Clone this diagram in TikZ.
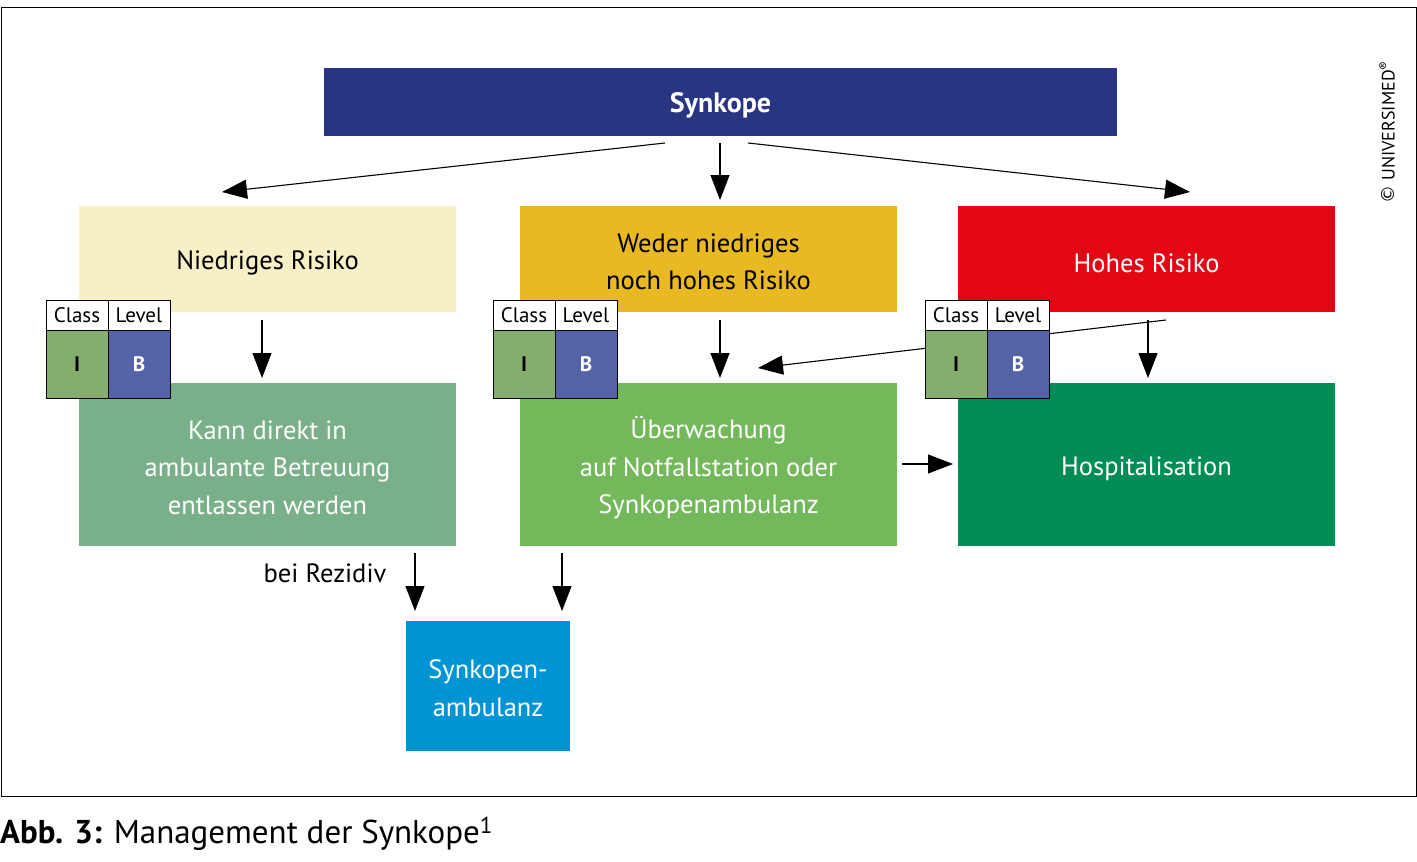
\documentclass[tikz,border=0pt]{standalone}
\usepackage{fontspec}
\setmainfont{PT Sans}
\newfontfamily\symfont{DejaVu Sans}
\usetikzlibrary{arrows.meta}
\definecolor{cblue}{HTML}{283583}
\definecolor{cpale}{HTML}{F7EFC6}
\definecolor{cyel}{HTML}{E8B923}
\definecolor{cred}{HTML}{E30613}
\definecolor{cgreenA}{HTML}{79B08A}
\definecolor{cgreenB}{HTML}{73B85A}
\definecolor{cgreenC}{HTML}{008C55}
\definecolor{ccyan}{HTML}{0094D4}
\definecolor{cellI}{HTML}{84AD6E}
\definecolor{cellB}{HTML}{5462A8}
\tikzset{
  box/.style={draw=none, inner sep=0pt, minimum width=377pt, minimum height=106pt},
  bigbox/.style={box, minimum height=163pt},
  tx/.style={inner sep=0pt, align=center, font=\fontsize{26.5}{37.5}\selectfont},
  wtx/.style={tx, text=white},
  hcell/.style={draw=black, line width=0.8pt, fill=white, minimum width=62pt, minimum height=30pt, inner sep=0pt, font=\fontsize{21}{21}\selectfont},
  dcell/.style={draw=black, line width=0.8pt, minimum width=62pt, minimum height=68pt, inner sep=0pt, font=\bfseries\fontsize{21}{21}\selectfont},
  arr/.style={line width=1.1pt, -{Triangle[length=25pt,width=19pt]}},
}
\newcommand{\cltable}[2]{%
  \node[hcell] (#2c) at (#1+31,315) {Class};
  \node[hcell] (#2l) at (#1+93,315) {Level};
  \node[dcell, fill=cellI] (#2i) at (#1+31,364) {I};
  \node[dcell, fill=cellB, text=white] (#2b) at (#1+93,364) {B};
}
\begin{document}
\begin{tikzpicture}[x=1pt,y=-1pt]
\useasboundingbox (0,0) rectangle (1417,862);
\draw[line width=1pt] (1,7) rectangle (1416,796);

\node[box, fill=cblue, minimum width=793pt, minimum height=68pt] (syn) at (720.5,102) {};
\node[wtx, font=\bfseries\fontsize{28}{30}\selectfont] (synT) at ([yshift=-3pt]syn.center) {Synkope};

\node[box, fill=cpale] (nied) at (267.5,259) {};
\node[box, fill=cyel] (wed) at (708.5,259) {};
\node[box, fill=cred] (hoch) at (1146.5,259) {};
\node[tx] (niedT) at ([yshift=-4pt]nied.center) {Niedriges Risiko};
\node[tx] (wedT) at ([yshift=-3pt]wed.center) {Weder niedriges\\noch hohes Risiko};
\node[wtx] (hochT) at ([yshift=-4pt]hoch.center) {Hohes Risiko};

\node[bigbox, fill=cgreenA] (kann) at (267.5,464.5) {};
\node[bigbox, fill=cgreenB] (ueb) at (708.5,464.5) {};
\node[bigbox, fill=cgreenC] (hosp) at (1146.5,464.5) {};
\node[wtx] (kannT) at ([yshift=-3pt]kann.center) {Kann direkt in\\ambulante Betreuung\\entlassen werden};
\node[wtx] (uebT) at ([yshift=-3.5pt]ueb.center) {Überwachung\\auf Notfallstation oder\\Synkopenambulanz};
\node[wtx] (hospT) at ([yshift=-4pt]hosp.center) {Hospitalisation};

\node[box, fill=ccyan, minimum width=164pt, minimum height=130pt] (amb) at (488,686) {};
\node[wtx] (ambT) at ([yshift=-2pt]amb.center) {Synkopen-\\ambulanz};

\node[tx] (rez) at (325,573) {bei Rezidiv};

% coordinates for arrow ends
\coordinate (s1) at (665,143); \coordinate (e1) at (222,192);
\coordinate (s2) at (720,143); \coordinate (e2) at (720,200);
\coordinate (s3) at (748,143); \coordinate (e3) at (1190,192);
\coordinate (n1) at (262,320); \coordinate (n2) at (262,378);
\coordinate (w1) at (720,320); \coordinate (w2) at (720,378);
\coordinate (h1) at (1166,320); \coordinate (h2) at (758,368);
\coordinate (h3) at (1148,320); \coordinate (h4) at (1148,378);
\coordinate (u1) at (902,464); \coordinate (u2) at (953,464);
\coordinate (k1) at (415,553); \coordinate (k2) at (415,611);
\coordinate (m1) at (562,553); \coordinate (m2) at (562,611);

\draw[arr] (s1) -- (e1);
\draw[arr] (s2) -- (e2);
\draw[arr] (s3) -- (e3);
\draw[arr] (n1) -- (n2);
\draw[arr] (w1) -- (w2);
\draw[arr] (h1) -- (h2);
\draw[arr] (h3) -- (h4);
\draw[arr] (u1) -- (u2);
\draw[arr] (k1) -- (k2);
\draw[arr] (m1) -- (m2);

\cltable{46}{ta}
\cltable{493}{tb}
\cltable{925}{tc}

\node[rotate=90, inner sep=0pt, font=\fontsize{18}{18}\selectfont] (copy) at (1387,132) {{\symfont ©} UNIVERSIMED\textsuperscript{®}};

\node[anchor=base west, inner sep=0pt, font=\fontsize{33}{36}\selectfont] (cap) at (0,843) {\textbf{Abb. 3:} Management der Synkope\textsuperscript{1}};
\end{tikzpicture}
\end{document}
